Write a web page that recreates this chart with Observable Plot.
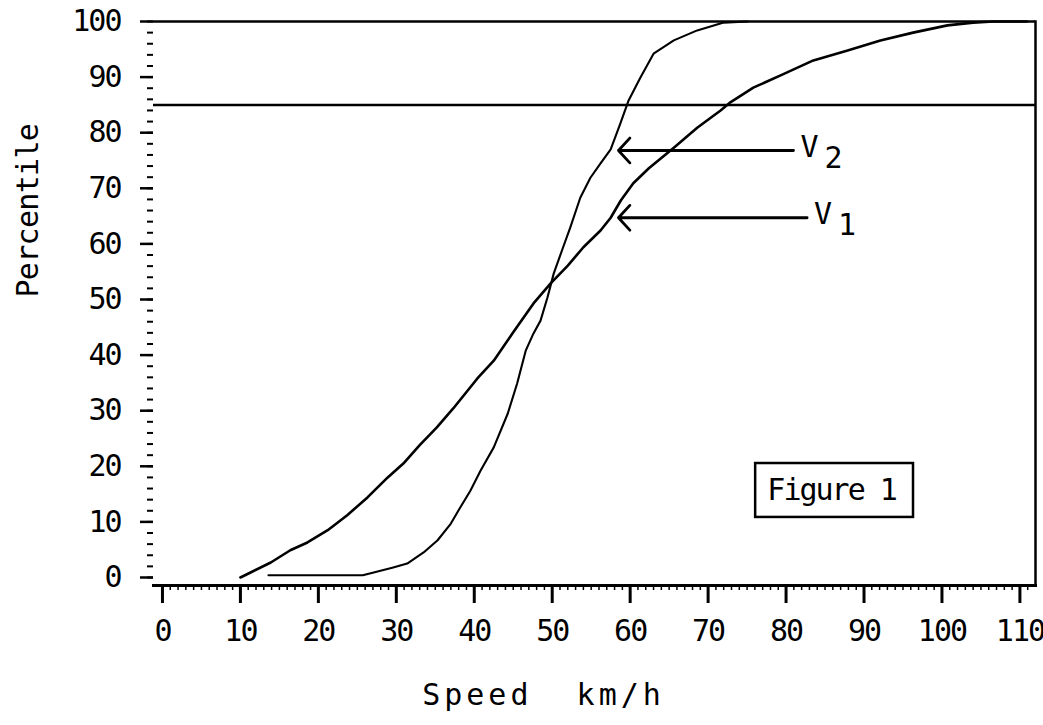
<!DOCTYPE html>
<html>
<head>
<meta charset="utf-8">
<script src="https://cdn.jsdelivr.net/npm/d3@7"></script>
<script src="https://cdn.jsdelivr.net/npm/@observablehq/plot@0.6"></script>
<style>
html, body { margin: 0; padding: 0; background: #fff; }
</style>
</head>
<body>
<div id="chart"></div>
<script>
// V1 : wide speed distribution (cumulative percentile)
const v1Speed = [10.0, 11.3, 13.9, 16.4, 18.6, 21.2, 23.7, 26.3, 28.9, 30.9, 33.0, 35.2, 37.3, 40.4, 42.5, 45.0, 47.6, 49.8, 52.0, 54.0, 56.2, 57.5, 58.8, 60.4, 62.4, 65.6, 68.6, 71.6, 72.9, 75.8, 79.3, 83.5, 87.9, 92.1, 96.3, 100.7, 104.0, 106.6, 110.9];
const v1Pct   = [0.0, 0.9, 2.7, 4.9, 6.3, 8.5, 11.2, 14.4, 18.0, 20.5, 23.8, 27.0, 30.4, 35.8, 39.0, 44.1, 49.3, 52.9, 56.1, 59.4, 62.4, 64.7, 67.8, 70.9, 73.6, 77.3, 80.9, 84.0, 85.5, 88.1, 90.3, 93.0, 94.8, 96.6, 98.0, 99.3, 99.8, 100, 100];

// V2 : narrow speed distribution (cumulative percentile)
const v2Speed = [13.6, 25.7, 27.1, 29.6, 31.4, 33.5, 35.3, 37.0, 38.2, 39.5, 40.8, 42.5, 44.3, 45.5, 46.6, 47.6, 48.5, 49.4, 50.2, 51.4, 52.3, 53.6, 54.9, 56.2, 57.5, 58.7, 59.8, 61.3, 63.0, 65.6, 68.6, 72.0, 75.1];
const v2Pct   = [0.4, 0.4, 0.9, 1.8, 2.5, 4.5, 6.7, 9.7, 12.6, 15.6, 19.2, 23.4, 29.5, 34.9, 40.8, 43.9, 46.2, 50.4, 54.7, 59.4, 62.9, 68.3, 71.9, 74.5, 77.0, 81.5, 85.8, 89.9, 94.2, 96.6, 98.4, 99.8, 100];

// axes
const xTicks = [0, 10, 20, 30, 40, 50, 60, 70, 80, 90, 100, 110];
const yTicks = [0, 10, 20, 30, 40, 50, 60, 70, 80, 90, 100];
const xTitle = "Speed\u00a0\u00a0km/h";
const yTitle = "Percentile";

// reference lines (100th and 85th percentile)
const percentileLines = [100, 85];

// arrow annotations
const arrowNames = ["V", "V"];
const arrowSubs  = ["2", "1"];
const arrowPct   = [76.8, 64.7];
const arrowTip   = [58.5, 58.5];
const arrowTail  = [80.95, 82.7];

// figure label box
const boxLabel = "Figure 1";
const boxX = [76.1, 96.35];
const boxY = [10.8, 20.5];

const v1 = v1Speed.map((s, i) => ({speed: s, pct: v1Pct[i]}));
const v2 = v2Speed.map((s, i) => ({speed: s, pct: v2Pct[i]}));
const arrows = arrowNames.map((n, i) => ({name: n, sub: arrowSubs[i], y: arrowPct[i], tip: arrowTip[i], tail: arrowTail[i]}));
const box = [{x1: boxX[0], x2: boxX[1], y1: boxY[0], y2: boxY[1], label: boxLabel}];

const font = "'DejaVu Sans Mono', monospace";

const chart = Plot.plot({
  width: 1043,
  height: 725,
  marginLeft: 153,
  marginRight: 8,
  marginTop: 21,
  marginBottom: 140,
  style: {fontFamily: font, fontSize: "30px", letterSpacing: "-2px", color: "#000", background: "#fff", overflow: "visible"},
  x: {domain: [-1.15, 112]},
  y: {domain: [-1.44, 100]},
  marks: [
    // minor ticks
    Plot.axisY(d3.range(0, 101, 2), {tickSize: 6, fill: "none", label: null, strokeWidth: 2}),
    Plot.axisX(d3.range(0, 112, 1), {tickSize: 5, fill: "none", label: null, strokeWidth: 1.5}),
    // major ticks
    Plot.axisY(yTicks, {tickSize: 13, tickPadding: 20, strokeWidth: 2.5, label: null}),
    Plot.axisX(xTicks, {tickSize: 18, tickPadding: 16, strokeWidth: 3, label: null}),
    Plot.frame({anchor: "bottom", strokeWidth: 3}),
    Plot.frame({anchor: "right", strokeWidth: 2.5}),
    Plot.ruleY(percentileLines, {strokeWidth: 2.5}),
    // curves
    Plot.line(v1, {x: "speed", y: "pct", stroke: "#000", strokeWidth: 2.6}),
    Plot.line(v2, {x: "speed", y: "pct", stroke: "#000", strokeWidth: 2.1}),
    // arrows
    Plot.arrow(arrows, {x1: "tail", y1: "y", x2: "tip", y2: "y", headLength: 9, headAngle: 95, strokeWidth: 2.8, stroke: "#000"}),
    Plot.text(arrows, {x: "tail", y: "y", text: "name", textAnchor: "start", dx: 7, dy: -3, fill: "#000"}),
    Plot.text(arrows, {x: "tail", y: "y", text: "sub", textAnchor: "start", dx: 31, dy: 8, fill: "#000"}),
    // figure label box
    Plot.rect(box, {x1: "x1", x2: "x2", y1: "y1", y2: "y2", fill: "#fff", stroke: "#000", strokeWidth: 2.5}),
    Plot.text(box, {x: d => (d.x1 + d.x2) / 2, y: d => (d.y1 + d.y2) / 2, text: "label", dx: -3, fill: "#000"}),
    // axis titles
    Plot.text([xTitle], {frameAnchor: "bottom", dx: -51, dy: 119, text: d => d, fill: "#000", fontSize: 30}),
    Plot.text([yTitle], {frameAnchor: "left", rotate: -90, dx: -125, dy: -6, text: d => d, fill: "#000", fontSize: 30})
  ]
});

d3.select(chart).selectAll("text").filter(function() { return this.textContent === xTitle; }).style("letter-spacing", "4px");
d3.select(chart).selectAll("text").filter(function() { return this.textContent === yTitle; }).style("letter-spacing", "-0.7px");

document.getElementById("chart").appendChild(chart);
</script>
</body>
</html>
